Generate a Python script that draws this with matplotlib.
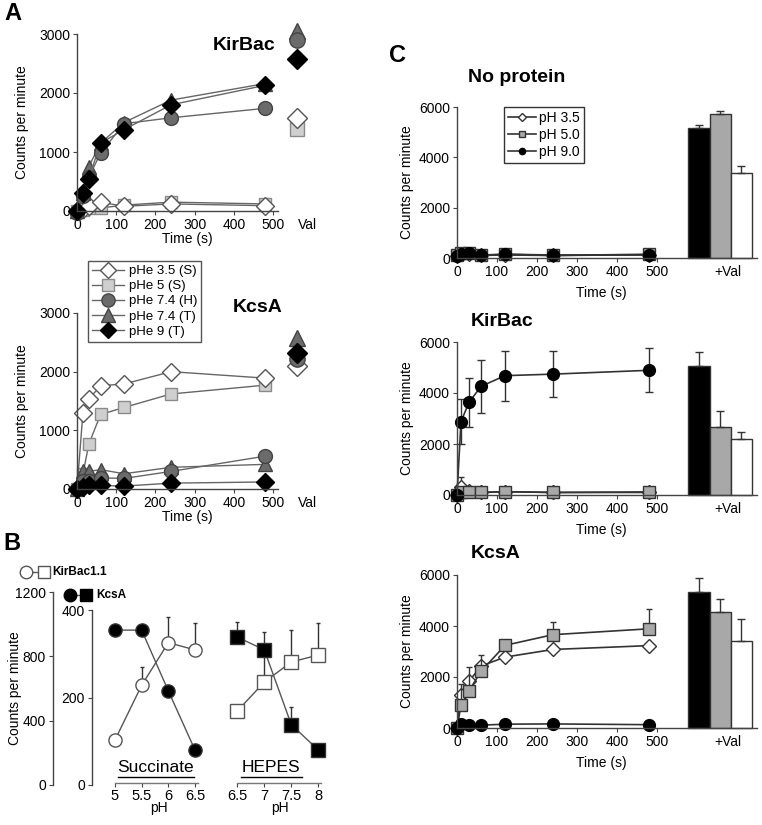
import numpy as np
import matplotlib.pyplot as plt
from matplotlib.lines import Line2D

plt.rcParams['font.family'] = ['Liberation Sans', 'DejaVu Sans']
plt.rcParams['font.size'] = 9

# ---------------- data: panel A ----------------
a_time = [0, 15, 30, 60, 120, 240, 480]
a_names = ['pHe 3.5 (S)', 'pHe 5 (S)', 'pHe 7.4 (H)', 'pHe 7.4 (T)', 'pHe 9 (T)']
kir_a = [[0, 40, 80, 150, 80, 120, 90],
         [0, 20, 50, 50, 100, 150, 120],
         [-30, 250, 570, 980, 1480, 1580, 1740],
         [0, 300, 750, 1150, 1500, 1880, 2160],
         [0, 300, 550, 1150, 1380, 1800, 2130]]
kir_a_val = [1580, 1390, 2900, 3050, 2580]
kcs_a = [[0, 1290, 1530, 1760, 1790, 2000, 1890],
         [0, 250, 760, 1270, 1390, 1620, 1770],
         [0, 130, 140, 190, 180, 300, 560],
         [0, 300, 300, 330, 260, 370, 420],
         [0, 40, 60, 60, 50, 100, 120]]
kcs_a_val = [2090, np.nan, 2220, 2570, 2320]

# ---------------- data: panel B ----------------
succ_ph = [5, 5.5, 6, 6.5]
hepes_ph = [6.5, 7, 7.5, 8]
kir_succ = [280, 620, 885, 840]
kir_succ_err = [0, 115, 160, 170]
kcs_succ = [354, 354, 215, 80]
kcs_succ_err = [0, 0, 0, 0]
kir_hepes = [460, 640, 765, 808]
kir_hepes_err = [0, 200, 200, 200]
kcs_hepes = [338, 309, 138, 80]
kcs_hepes_err = [35, 41, 40, 0]

# ---------------- data: panel C ----------------
c_time = [0, 10, 30, 60, 120, 240, 480]
c_names = ['pH 3.5', 'pH 5.0', 'pH 9.0']
nop = [[80, 150, 150, 100, 120, 100, 130],
       [100, 200, 200, 120, 150, 100, 150],
       [60, 150, 180, 100, 150, 120, 120]]
nop_err = [[0] * 7, [0] * 7, [0] * 7]
kir_c = [[0, 320, 150, 100, 130, 100, 100],
         [0, 100, 100, 100, 130, 100, 120],
         [0, 2880, 3630, 4260, 4680, 4740, 4890]]
kir_c_err = [[0, 400, 0, 0, 0, 0, 0],
             [0] * 7,
             [0, 870, 970, 1030, 980, 890, 860]]
kcs_c = [[0, 1300, 1830, 2430, 2780, 3080, 3230],
         [0, 890, 1460, 2220, 3240, 3660, 3890],
         [0, 150, 120, 110, 150, 160, 130]]
kcs_c_err = [[0] * 7,
             [0, 850, 950, 650, 0, 480, 770],
             [0] * 7]
bar_colors = ['black', '#a8a8a8', 'white']   # pH 9.0, pH 5.0, pH 3.5
nop_bar = [5180, 5730, 3380]
nop_bar_err = [120, 120, 270]
kir_bar = [5050, 2650, 2200]
kir_bar_err = [550, 650, 260]
kcs_bar = [5350, 4530, 3420]
kcs_bar_err = [530, 520, 860]

# ---------------- layout helpers (pixel based) ----------------
W, H = 762, 825
fig = plt.figure(figsize=(W / 100, H / 100), dpi=100)

ov = fig.add_axes([0, 0, 1, 1])
ov.set_xlim(0, W)
ov.set_ylim(H, 0)
ov.axis('off')

TICK = 10
LAB = 10


def span(p0, p1, m):
    d1, q1, d2, q2 = m
    k = (d2 - d1) / (q2 - q1)
    return d1 + (p0 - q1) * k, d1 + (p1 - q1) * k


def new_ax(box, xm, ym):
    x0, y0, x1, y1 = box
    ax = fig.add_axes([x0 / W, 1 - y1 / H, (x1 - x0) / W, (y1 - y0) / H])
    ax.set_xlim(span(x0, x1, xm))
    ax.set_ylim(span(y1, y0, ym))
    ax.patch.set_alpha(0)
    ax.spines['top'].set_visible(False)
    ax.spines['right'].set_visible(False)
    for s in ax.spines.values():
        s.set_color('#444444')
        s.set_linewidth(1)
    ax.tick_params(direction='out', length=3, width=0.8, color='#444444',
                   labelsize=TICK, pad=2)
    return ax


def ylabel_at(ax, box, xpx, ypx):
    # label anchor is its right edge when rotated, so shift by half a line
    x0, y0, x1, y1 = box
    ax.set_ylabel('Counts per minute', fontsize=LAB)
    ax.yaxis.set_label_coords((xpx + 7 - x0) / (x1 - x0), (y1 - ypx) / (y1 - y0))


# ---------------- panel A ----------------
a_marker = ['D', 's', 'o', '^', 'D']
a_face = ['white', '#cfcfcf', '#6b6b6b', '#6b6b6b', 'black']
a_edge = ['#555555', '#8a8a8a', '#444444', '#444444', 'black']
a_size = [9, 9, 10, 10, 9]
a_order = [1, 0, 3, 2, 4]
xmA = (0, 77, 500, 273)
a_handles = {}

for box, ym, vals, vval, title, tpos in [
        ((55, 22, 320, 214), (0, 211, 3000, 34), kir_a, kir_a_val, 'KirBac', (244, 45)),
        ((55, 300, 320, 492), (0, 489, 3000, 313), kcs_a, kcs_a_val, 'KcsA', (258, 308))]:
    ax = new_ax(box, xmA, ym)
    ax.spines['left'].set_position(('data', 0))
    ax.spines['left'].set_bounds(0, 3000)
    ax.spines['bottom'].set_position(('data', 0))
    ax.spines['bottom'].set_bounds(0, 513)
    ax.set_xticks(range(0, 501, 100))
    ax.set_yticks(range(0, 3001, 1000))
    ax.set_xticks([587], ['Val'], minor=True)
    ax.tick_params(axis='x', which='minor', length=0, pad=5, labelsize=TICK)
    ax.set_xlabel('Time (s)', fontsize=LAB, labelpad=0)
    ylabel_at(ax, box, 22, (ym[1] + ym[3]) / 2)
    for i in a_order:
        ln, = ax.plot(a_time, vals[i], marker=a_marker[i], ms=a_size[i],
                      mfc=a_face[i], mec=a_edge[i], mew=1, color='#666666',
                      lw=1, clip_on=False, label=a_names[i])
        a_handles[i] = ln
        ax.plot([560], [vval[i]], marker=a_marker[i], ms=a_size[i] + 1,
                mfc=a_face[i], mec=a_edge[i], mew=1, ls='none', clip_on=False)
    ov.text(tpos[0], tpos[1], title, fontsize=14, fontweight='bold',
            ha='center', va='center')

fig.legend([a_handles[i] for i in range(5)], a_names, loc='upper left',
           bbox_to_anchor=(88 / W, 1 - 261 / H), bbox_transform=fig.transFigure,
           borderaxespad=0, fancybox=False, edgecolor='#555555', framealpha=1,
           fontsize=9.5, labelspacing=0.22, handlelength=2.4, handletextpad=0.4,
           borderpad=0.3, markerscale=0.95)

# ---------------- panel B ----------------
ymB_kir = (0, 785, 1200, 592)
ymB_kcs = (0, 785, 400, 610)

boxL = (53, 580, 60, 790)
axL = new_ax(boxL, (0, 53, 1, 60), ymB_kir)
axL.spines['bottom'].set_visible(False)
axL.spines['left'].set_bounds(0, 1200)
axL.set_xticks([])
axL.set_yticks([0, 400, 800, 1200])
ylabel_at(axL, boxL, 15, 688)

boxR = (92, 580, 100, 790)
axR = new_ax(boxR, (0, 92, 1, 100), ymB_kcs)
axR.spines['bottom'].set_visible(False)
axR.spines['left'].set_bounds(0, 400)
axR.set_xticks([])
axR.set_yticks([0, 200, 400])

for box, xm, ph, kv, ke, cv, ce, mk in [
        ((105, 580, 212, 783), (5, 115, 6.5, 195), succ_ph,
         kir_succ, kir_succ_err, kcs_succ, kcs_succ_err, 'o'),
        ((225, 580, 335, 783), (6.5, 237.3, 8, 318.3), hepes_ph,
         kir_hepes, kir_hepes_err, kcs_hepes, kcs_hepes_err, 's')]:
    axk = new_ax(box, xm, ymB_kir)
    axk.spines['left'].set_visible(False)
    axk.spines['bottom'].set_color('#777777')
    axk.spines['bottom'].set_bounds(ph[0], ph[-1] + 0.05)
    axk.set_yticks([])
    axk.set_xticks(ph, [f'{v:g}' for v in ph])
    axk.tick_params(axis='x', labelsize=10.5, pad=1)
    axk.set_xlabel('pH', fontsize=10, labelpad=-1)
    axc = new_ax(box, xm, ymB_kcs)
    axc.axis('off')
    axk.errorbar(ph, kv, yerr=[np.zeros(len(kv)), ke], fmt='none',
                 ecolor='#333333', elinewidth=1, capsize=1.5, clip_on=False)
    axc.errorbar(ph, cv, yerr=[np.zeros(len(cv)), ce], fmt='none',
                 ecolor='#333333', elinewidth=1, capsize=1.5, clip_on=False)
    axk.plot(ph, kv, marker=mk, ms=9.5, mfc='white', mec='#555555', mew=1,
             color='#555555', lw=1, clip_on=False, zorder=3)
    axc.plot(ph, cv, marker=mk, ms=9.5, mfc='black', mec='#333333', mew=1,
             color='#555555', lw=1, clip_on=False, zorder=3)

for x, y, w, txt in [(156, 767, (118, 194), 'Succinate'), (271, 767, (241, 302), 'HEPES')]:
    ov.text(x, y, txt, fontsize=12.5, ha='center', va='center')
    ov.plot(w, [777, 777], color='black', lw=1)

ov.plot([26, 44], [572, 572], color='#555555', lw=1)
ov.plot([26], [572], 'o', ms=9, mfc='white', mec='#555555')
ov.plot([44], [572], 's', ms=8.5, mfc='white', mec='#555555')
ov.text(52, 572, 'KirBac1.1', fontsize=8.5, fontweight='bold', va='center')
ov.plot([70, 86], [595, 595], color='#555555', lw=1)
ov.plot([70], [595], 'o', ms=9, mfc='black', mec='black')
ov.plot([86], [595], 's', ms=8.5, mfc='black', mec='black')
ov.text(96, 595, 'KcsA', fontsize=8.5, fontweight='bold', va='center')

# ---------------- panel C ----------------
c_marker = ['D', 's', 'o']
c_face = ['white', '#a8a8a8', 'black']
c_edge = ['#333333', '#333333', 'black']
c_size = [7, 9, 8.5]
xmC = (0, 457, 500, 657)
bar_x = [605, 658, 711]

panelsC = [
    ((440, 95, 762, 262), (0, 258, 6000, 107), nop, nop_err, nop_bar, nop_bar_err, 'No protein', 78),
    ((440, 335, 762, 499), (0, 495, 6000, 342), kir_c, kir_c_err, kir_bar, kir_bar_err, 'KirBac', 322),
    ((440, 568, 762, 732), (0, 728, 6000, 575), kcs_c, kcs_c_err, kcs_bar, kcs_bar_err, 'KcsA', 554),
]
for box, ym, vals, errs, bars, berr, title, ty in panelsC:
    ax = new_ax(box, xmC, ym)
    ax.spines['left'].set_position(('data', 0))
    ax.spines['left'].set_bounds(0, 6000)
    ax.spines['bottom'].set_position(('data', 0))
    ax.spines['bottom'].set_bounds(0, 750)
    ax.set_xticks(range(0, 501, 100))
    ax.set_yticks(range(0, 6001, 2000))
    ax.set_xticks([678], ['+Val'], minor=True)
    ax.tick_params(axis='x', which='minor', length=0, pad=5, labelsize=TICK)
    ax.set_xlabel('Time (s)', fontsize=LAB, labelpad=5)
    ylabel_at(ax, box, 407, (ym[1] + ym[3]) / 2)
    ax.bar(bar_x, bars, width=53, color=bar_colors, edgecolor='#333333',
           linewidth=1, yerr=[np.zeros(3), berr], capsize=3,
           error_kw=dict(ecolor='#333333', elinewidth=1, capthick=1))
    for i in range(3):
        e = np.array(errs[i])
        if e.any():
            if i == 2:
                ax.errorbar(c_time, vals[i], yerr=e, fmt='none', ecolor='#333333',
                            elinewidth=1, capsize=3, clip_on=False)
            else:
                ax.errorbar(c_time, vals[i], yerr=[np.zeros(7), e], fmt='none',
                            ecolor='#333333', elinewidth=1, capsize=2, clip_on=False)
        ax.plot(c_time, vals[i], marker=c_marker[i], ms=c_size[i], mfc=c_face[i],
                mec=c_edge[i], mew=1, color='#333333', lw=1.2, clip_on=False)
    ov.text(468 if title == 'No protein' else 471, ty, title, fontsize=14,
            fontweight='bold', ha='left', va='center')

c_handles = [Line2D([0], [0], marker=c_marker[i], ms=4.5, mfc=c_face[i],
                    mec=c_edge[i], color='#333333', lw=1.2) for i in range(3)]
fig.legend(c_handles, c_names, loc='upper left',
           bbox_to_anchor=(504 / W, 1 - 107 / H), bbox_transform=fig.transFigure,
           borderaxespad=0, fancybox=False, edgecolor='#333333', framealpha=1,
           fontsize=10, labelspacing=0.2, handlelength=2.0, handletextpad=0.2,
           borderpad=0.3)

# panel letters
for x, y, t in [(13, 14, 'A'), (12, 543, 'B'), (397, 55, 'C')]:
    ov.text(x, y, t, fontsize=17, fontweight='bold', ha='center', va='center')

fig.savefig('out.png', dpi=100)
